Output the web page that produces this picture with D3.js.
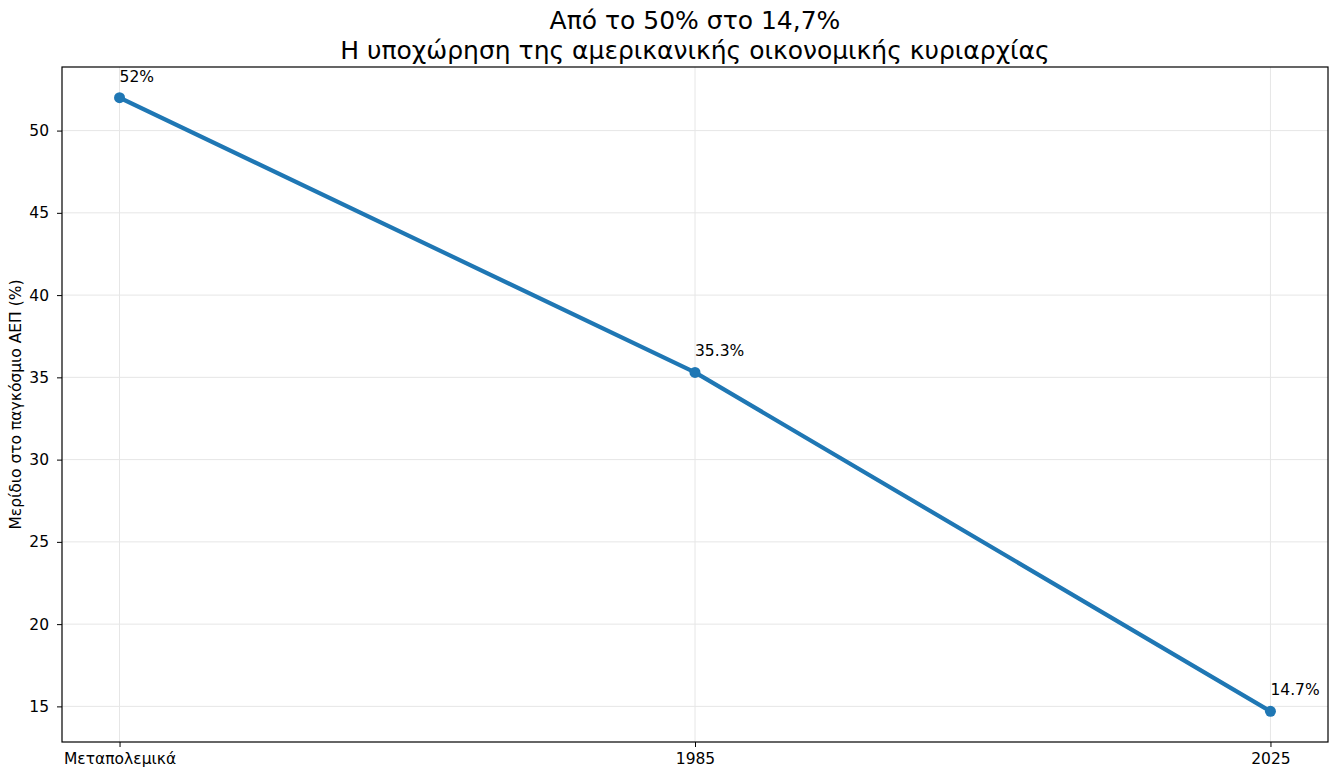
<!DOCTYPE html>
<html>
<head>
<meta charset="utf-8">
<script src="https://cdn.jsdelivr.net/npm/d3@7"></script>
<style>
  body { margin: 0; background: #fff; }
  svg text { font-family: "DejaVu Sans", sans-serif; fill: #000; }
</style>
</head>
<body>
<svg id="chart" width="1340" height="782"></svg>
<script>
// data
const categories = ["Μεταπολεμικά", "1985", "2025"]
const shares = [52, 35.3, 14.7]
const pointLabels = ["52%", "35.3%", "14.7%"]
const yTicks = [15, 20, 25, 30, 35, 40, 45, 50]
const titleLines = ["Από το 50% στο 14,7%", "Η υποχώρηση της αμερικανικής οικονομικής κυριαρχίας"]

const plotLeft = 62, plotRight = 1328, plotTop = 67, plotBottom = 742

const svg = d3.select("#chart")

// categorical x with matplotlib-like 5% margins
let x = d3.scaleLinear()
    .domain([-0.1, categories.length - 1 + 0.1])
    .range([plotLeft, plotRight])

let yMin = d3.min(shares), yMax = d3.max(shares)
let pad = (yMax - yMin) * 0.05
let y = d3.scaleLinear()
    .domain([yMin - pad, yMax + pad])
    .range([plotBottom, plotTop])

// grid
svg.append("g")
   .selectAll("line")
   .data(yTicks)
   .join("line")
   .attr("x1", plotLeft).attr("x2", plotRight)
   .attr("y1", d => y(d)).attr("y2", d => y(d))
   .style("stroke", "#e6e6e6")
   .style("stroke-width", 1)

svg.append("g")
   .selectAll("line")
   .data(categories)
   .join("line")
   .attr("x1", (d, i) => x(i)).attr("x2", (d, i) => x(i))
   .attr("y1", plotTop).attr("y2", plotBottom)
   .style("stroke", "#e6e6e6")
   .style("stroke-width", 1)

// axes
let xAxis = d3.axisBottom(x)
    .tickValues(d3.range(categories.length))
    .tickFormat(i => categories[i])
    .tickSize(5).tickPadding(6)
let gx = svg.append("g")
    .attr("transform", `translate(0,${plotBottom})`)
    .call(xAxis)

let yAxis = d3.axisLeft(y)
    .tickValues(yTicks)
    .tickSize(5).tickPadding(8)
let gy = svg.append("g")
    .attr("transform", `translate(${plotLeft},0)`)
    .call(yAxis)

;[gx, gy].forEach(g => {
    g.attr("font-size", null).attr("font-family", null)
    g.select(".domain").remove()
    g.selectAll(".tick line").style("stroke", "#000").style("stroke-width", 1)
    g.selectAll(".tick text").style("font-size", "15.5px")
})

// frame
svg.append("rect")
   .attr("x", plotLeft).attr("y", plotTop)
   .attr("width", plotRight - plotLeft).attr("height", plotBottom - plotTop)
   .style("fill", "none")
   .style("stroke", "#000")
   .style("stroke-width", 1.2)

// line + markers
let line = d3.line()
    .x((d, i) => x(i))
    .y(d => y(d))

svg.append("path")
   .datum(shares)
   .attr("d", line)
   .style("fill", "none")
   .style("stroke", "#1f77b4")
   .style("stroke-width", 4.2)
   .style("stroke-linejoin", "round")
   .style("stroke-linecap", "square")

svg.append("g")
   .selectAll("circle")
   .data(shares)
   .join("circle")
   .attr("cx", (d, i) => x(i))
   .attr("cy", d => y(d))
   .attr("r", 5.5)
   .style("fill", "#1f77b4")

// point labels
svg.append("g")
   .selectAll("text")
   .data(shares)
   .join("text")
   .attr("x", (d, i) => x(i))
   .attr("y", d => y(d) - 16)
   .style("font-size", "15.5px")
   .text((d, i) => pointLabels[i])

// y label
svg.append("text")
   .attr("transform", `translate(21,${(plotTop + plotBottom) / 2}) rotate(-90)`)
   .attr("text-anchor", "middle")
   .style("font-size", "15.5px")
   .text("Μερίδιο στο παγκόσμιο ΑΕΠ (%)")

// title
svg.append("g")
   .selectAll("text")
   .data(titleLines)
   .join("text")
   .attr("x", (plotLeft + plotRight) / 2)
   .attr("y", (d, i) => 29 + i * 30)
   .attr("text-anchor", "middle")
   .style("font-size", "25px")
   .text(d => d)
</script>
</body>
</html>
